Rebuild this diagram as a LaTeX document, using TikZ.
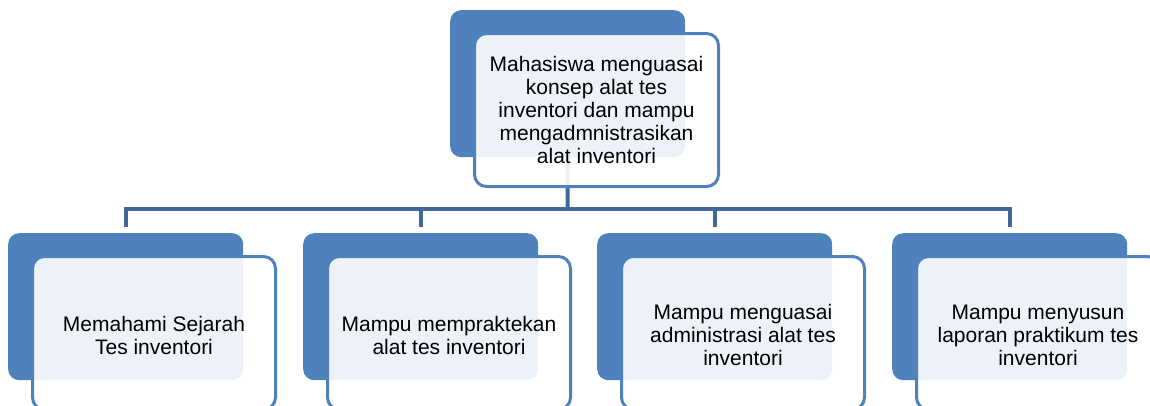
\documentclass[tikz,border=0pt]{standalone}
\usepackage{fontspec}
\setmainfont{Liberation Sans}
\definecolor{accent}{RGB}{79,129,189}
\definecolor{connc}{RGB}{64,104,152}
\tikzset{
  backbox/.style={draw=none, fill=accent, rounded corners=11pt, minimum width=235pt, minimum height=147pt, anchor=north west, inner sep=0pt},
  frontbox/.style={draw=accent, line width=3pt, fill=white, fill opacity=0.9, text opacity=1, rounded corners=12pt, minimum width=243pt, minimum height=153pt, anchor=north west, inner sep=0pt},
  lbl/.style={align=center, font=\fontsize{21}{23}\selectfont, text=black},
  conn/.style={draw=connc, line width=4pt}
}
\begin{document}
\begin{tikzpicture}[x=1pt,y=-1pt]
\useasboundingbox (0,0) rectangle (1150,405);
\clip (0,0) rectangle (1150,405);
% back boxes
\node[backbox] (tb) at (450,10) {};
\node[backbox] (b1) at (8,233) {};
\node[backbox] (b2) at (303,233) {};
\node[backbox] (b3) at (597,233) {};
\node[backbox] (b4) at (892,233) {};
% connectors
\coordinate (bus) at (567.5,209);
\draw[conn] (tb.south) -- (bus);
\draw[conn] ([yshift=6pt]b1.north) |- (bus);
\draw[conn] ([yshift=6pt]b4.north) |- (bus);
\draw[conn] ([yshift=6pt]b2.north) -- (b2.north |- bus);
\draw[conn] ([yshift=6pt]b3.north) -- (b3.north |- bus);
% front boxes
\node[frontbox, minimum width=244pt] (tf) at (473,32) {};
\node[lbl] (tt) at (tf.center) {Mahasiswa menguasai\\konsep alat tes\\inventori dan mampu\\mengadmnistrasikan\\alat inventori};
\node[frontbox] (f1) at (31,255) {};
\node[lbl] (t1) at ([yshift=-2pt]f1.center) {Memahami Sejarah\\Tes inventori};
\node[frontbox] (f2) at (326,255) {};
\node[lbl] (t2) at ([yshift=-2pt]f2.center) {Mampu mempraktekan\\alat tes inventori};
\node[frontbox] (f3) at (620,255) {};
\node[lbl] (t3) at ([yshift=-2pt]f3.center) {Mampu menguasai\\administrasi alat tes\\inventori};
\node[frontbox] (f4) at (915,255) {};
\node[lbl] (t4) at ([yshift=-2pt]f4.center) {Mampu menyusun\\laporan praktikum tes\\inventori};
\end{tikzpicture}
\end{document}
